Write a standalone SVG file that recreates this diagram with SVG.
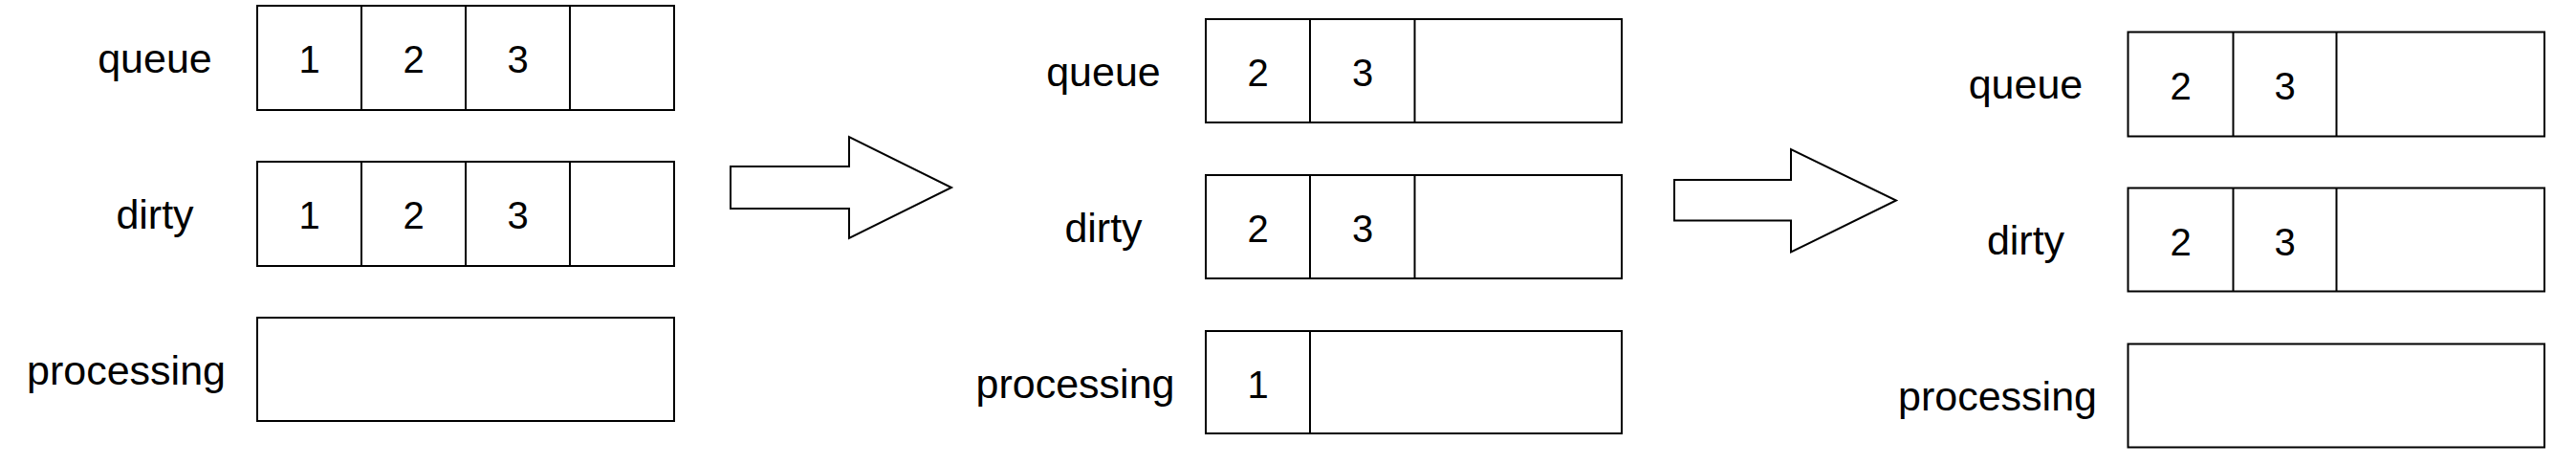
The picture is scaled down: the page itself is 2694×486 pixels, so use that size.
<svg xmlns="http://www.w3.org/2000/svg" width="2694" height="486" viewBox="0 0 2694 486">
<style>
.box{fill:#fff;stroke:#000;stroke-width:2}
.div{stroke:#000;stroke-width:2}
.lbl{font-family:"Liberation Sans",Arial,sans-serif;font-size:43px;fill:#000;text-anchor:middle}
.num{font-family:"Liberation Sans",Arial,sans-serif;font-size:40px;fill:#000;text-anchor:middle}
.arrow{fill:#fff;stroke:#000;stroke-width:2;stroke-linejoin:miter}
</style>
<rect width="2694" height="486" fill="#fff"/>
<!-- State 1 -->
<g id="s1-queue">
<text class="lbl" x="162" y="75.5">queue</text>
<rect class="box" x="269" y="6" width="436" height="109"/>
<line class="div" x1="378" y1="6" x2="378" y2="115"/>
<line class="div" x1="487" y1="6" x2="487" y2="115"/>
<line class="div" x1="596" y1="6" x2="596" y2="115"/>
<text class="num" x="323.5" y="76">1</text>
<text class="num" x="432.5" y="76">2</text>
<text class="num" x="541.5" y="76">3</text>
</g>
<g id="s1-dirty">
<text class="lbl" x="162" y="238.5">dirty</text>
<rect class="box" x="269" y="169" width="436" height="109"/>
<line class="div" x1="378" y1="169" x2="378" y2="278"/>
<line class="div" x1="487" y1="169" x2="487" y2="278"/>
<line class="div" x1="596" y1="169" x2="596" y2="278"/>
<text class="num" x="323.5" y="239">1</text>
<text class="num" x="432.5" y="239">2</text>
<text class="num" x="541.5" y="239">3</text>
</g>
<g id="s1-processing">
<text class="lbl" x="132" y="401.5">processing</text>
<rect class="box" x="269" y="332" width="436" height="108"/>
</g>
<!-- State 2 -->
<g id="s2-queue">
<text class="lbl" x="1154" y="89.5">queue</text>
<rect class="box" x="1261" y="20" width="435" height="108"/>
<line class="div" x1="1370" y1="20" x2="1370" y2="128"/>
<line class="div" x1="1479.5" y1="20" x2="1479.5" y2="128"/>
<text class="num" x="1315.5" y="90">2</text>
<text class="num" x="1425" y="90">3</text>
</g>
<g id="s2-dirty">
<text class="lbl" x="1154" y="252.5">dirty</text>
<rect class="box" x="1261" y="183" width="435" height="108"/>
<line class="div" x1="1370" y1="183" x2="1370" y2="291"/>
<line class="div" x1="1479.5" y1="183" x2="1479.5" y2="291"/>
<text class="num" x="1315.5" y="253">2</text>
<text class="num" x="1425" y="253">3</text>
</g>
<g id="s2-processing">
<text class="lbl" x="1124.5" y="415.5">processing</text>
<rect class="box" x="1261" y="346" width="435" height="107"/>
<line class="div" x1="1370" y1="346" x2="1370" y2="453"/>
<text class="num" x="1315.5" y="416">1</text>
</g>
<!-- State 3 -->
<g id="s3-queue">
<text class="lbl" x="2118.5" y="103">queue</text>
<rect class="box" x="2225.5" y="33.5" width="435.5" height="109"/>
<line class="div" x1="2335.5" y1="33.5" x2="2335.5" y2="142.5"/>
<line class="div" x1="2443.5" y1="33.5" x2="2443.5" y2="142.5"/>
<text class="num" x="2280.5" y="103.5">2</text>
<text class="num" x="2389.5" y="103.5">3</text>
</g>
<g id="s3-dirty">
<text class="lbl" x="2118.5" y="266">dirty</text>
<rect class="box" x="2225.5" y="196.5" width="435.5" height="108"/>
<line class="div" x1="2335.5" y1="196.5" x2="2335.5" y2="304.5"/>
<line class="div" x1="2443.5" y1="196.5" x2="2443.5" y2="304.5"/>
<text class="num" x="2280.5" y="266.5">2</text>
<text class="num" x="2389.5" y="266.5">3</text>
</g>
<g id="s3-processing">
<text class="lbl" x="2089" y="429">processing</text>
<rect class="box" x="2225.5" y="359.5" width="435.5" height="108"/>
</g>
<!-- Connectors -->
<g id="connectors">
<polygon class="arrow" points="764,174 888,174 888,143 995,196 888,249 888,218 764,218"/>
<polygon class="arrow" points="1751,188 1873,188 1873,156 1983,209.5 1873,263.5 1873,230.5 1751,230.5"/>
</g>
</svg>
